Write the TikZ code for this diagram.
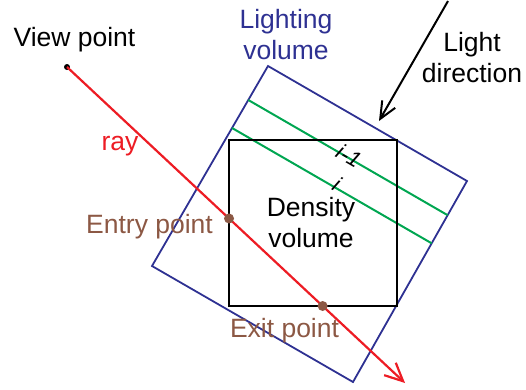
\documentclass[tikz,border=0pt]{standalone}
\usepackage{fontspec}
\setmainfont{Liberation Sans}
\usetikzlibrary{arrows.meta,calc}
\definecolor{lvblue}{RGB}{46,49,146}
\definecolor{slgreen}{RGB}{0,166,81}
\definecolor{rayred}{RGB}{237,28,36}
\definecolor{ptbrown}{RGB}{140,88,68}
\tikzset{
  lbl/.style={font=\fontsize{26.5}{31}\selectfont, align=center, inner sep=0pt, anchor=base},
  lvedge/.style={draw=lvblue, line width=1.8pt},
  slice/.style={draw=slgreen, line width=2pt},
  dvbox/.style={draw=black, line width=2pt},
  raypath/.style={draw=rayred, line width=2.2pt, -{Straight Barb[length=18pt,width=17pt,line width=2.2pt]}},
  lightarrow/.style={draw=black, line width=2pt, -{Straight Barb[length=17pt,width=15pt,line width=2pt]}},
  ptdot/.style={circle, fill=ptbrown, inner sep=0pt, minimum size=10pt},
  vdot/.style={circle, fill=black, inner sep=0pt, minimum size=6pt},
  slbl/.style={font=\fontsize{22}{26}\selectfont\itshape, inner sep=0pt, rotate=-30},
}
\begin{document}
\begin{tikzpicture}[x=1pt,y=-1pt]
\useasboundingbox (0,0) rectangle (526,389);
% lighting volume corners
\coordinate (T) at (268,66);
\coordinate (R) at (467,181);
\coordinate (B) at (353,382);
\coordinate (L) at (152,266);
\draw[lvedge] (T) -- (R) -- (B) -- (L) -- cycle;
% slices
\coordinate (g1a) at ($(T)!0.17!(L)$);
\coordinate (g1b) at ($(R)!0.17!(B)$);
\coordinate (g2a) at ($(T)!0.31!(L)$);
\coordinate (g2b) at ($(R)!0.31!(B)$);
\draw[slice] (g1a) -- (g1b);
\draw[slice] (g2a) -- (g2b);
% density volume
\coordinate (D1) at (229,140);
\coordinate (D2) at (397,306);
\coordinate (Dbl) at (229,306);
\draw[dvbox] (D1) rectangle (D2);
% ray
\node[vdot] (V) at (67,67) {};
\coordinate (tip) at (405,383);
\draw[raypath] (V.center) -- (tip);
\node[ptdot] (entry) at (intersection of V--tip and D1--Dbl) {};
\node[ptdot] (exit) at (intersection of V--tip and Dbl--D2) {};
% light direction
\coordinate (ls) at (448,1);
\coordinate (le) at (379,121);
\draw[lightarrow] (ls) -- (le);
% labels (base anchor = baseline of last line)
\node[lbl] (vp) at (74.5,46) {View point};
\node[lbl, text=lvblue] (lv) at (286,59) {Lighting\\volume};
\node[lbl] (ld) at (472,82) {Light\\direction};
\node[lbl, text=rayred] (rl) at (120,150) {ray};
\node[lbl, text=ptbrown] (en) at (149.5,233) {Entry point};
\node[lbl, text=ptbrown] (ex) at (284.5,337) {Exit point};
\node[lbl] (dv) at (311,247) {Density\\volume};
\node[slbl] (s1) at (349,156) {i-1};
\node[slbl] (s2) at (337,184) {i};
\end{tikzpicture}
\end{document}
